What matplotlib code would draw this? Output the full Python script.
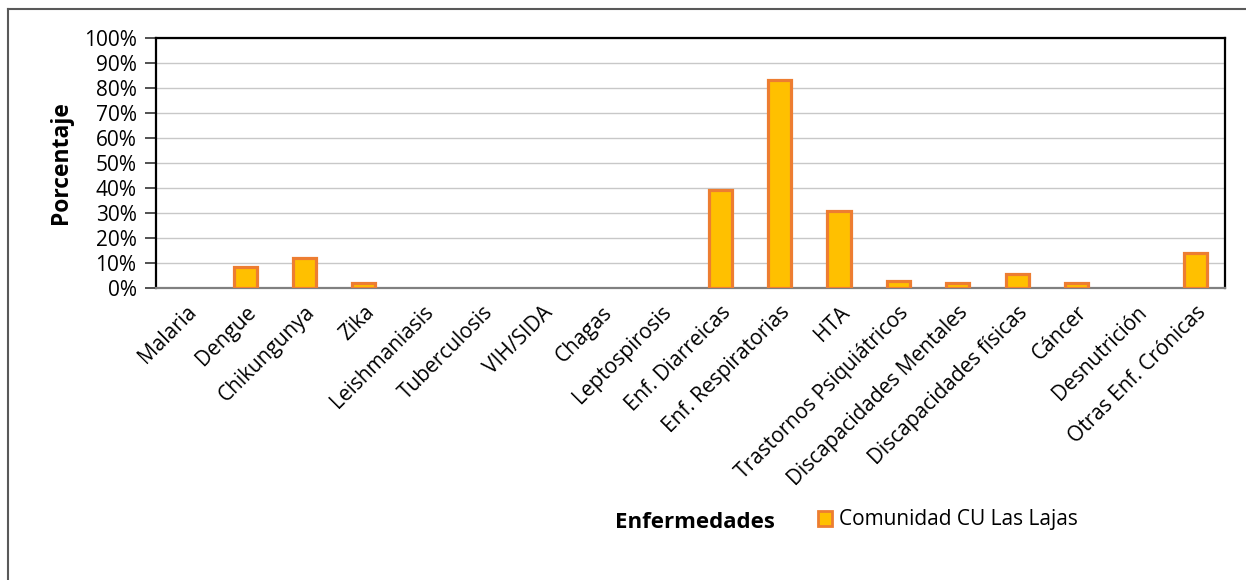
import numpy as np
import matplotlib.pyplot as plt
from matplotlib.patches import Patch
from matplotlib.lines import Line2D

categorias = ["Malaria", "Dengue", "Chikungunya", "Zika", "Leishmaniasis",
              "Tuberculosis", "VIH/SIDA", "Chagas", "Leptospirosis",
              "Enf. Diarreicas", "Enf. Respiratorias", "HTA",
              "Trastornos Psiquiátricos", "Discapacidades Mentales",
              "Discapacidades físicas", "Cáncer", "Desnutrición",
              "Otras Enf. Crónicas"]
porcentajes = [0, 8.4, 12.2, 1.9, 0, 0, 0, 0, 0,
               39.4, 83.3, 30.8, 2.9, 2.2, 5.7, 2.2, 0, 14.1]
y_ticks = list(range(0, 101, 10))

plt.rcParams['font.family'] = ['Open Sans', 'DejaVu Sans']

fig = plt.figure(figsize=(12.46, 5.8), dpi=100)
ax = fig.add_axes([156 / 1246, 1 - 288 / 580, (1225 - 156) / 1246, 250 / 580])

x = np.arange(len(categorias))
bars = ax.bar(x, porcentajes, width=0.39, color='#FFC000', edgecolor='#ED7D31',
              linewidth=2.3, zorder=3)
# Excel does not draw empty bars
for b, v in zip(bars, porcentajes):
    if v == 0:
        b.set_visible(False)

ax.set_xlim(-0.5, len(categorias) - 0.5)
ax.set_ylim(0, 100)
ax.set_yticks(y_ticks)
ax.set_yticklabels([f"{v}%" for v in y_ticks], fontsize=15)
ax.yaxis.grid(True, color='#C8C8C8', linewidth=1, zorder=0)
ax.set_xticks(x)
ax.set_xticklabels(categorias, rotation=45, ha='right', rotation_mode='anchor',
                   fontsize=15)
ax.tick_params(axis='x', length=0, pad=10)
ax.tick_params(axis='y', length=8, width=1.2, color='#333333', pad=6)

for side in ['left', 'right', 'top']:
    ax.spines[side].set_linewidth(1.6)
    ax.spines[side].set_color('black')
ax.spines['bottom'].set_color('#808080')
ax.spines['bottom'].set_linewidth(1.6)

ax.set_ylabel("Porcentaje", fontsize=16.5, fontweight='bold', labelpad=8)

fig.text(695 / 1246, 1 - 523 / 580, "Enfermedades", fontsize=16,
         fontweight='bold', ha='center', va='center')
handle = Patch(facecolor='#FFC000', edgecolor='#ED7D31', linewidth=2)
fig.legend([handle], ["Comunidad CU Las Lajas"], loc='center left',
           bbox_to_anchor=(799 / 1246, 1 - 520 / 580), frameon=False,
           fontsize=15, handlelength=0.7, handleheight=0.7, handletextpad=0.3)

# chart frame: only the top and left edges are inside the picture
fig.add_artist(Line2D([8 / 1246, 8 / 1246], [0, 1 - 9 / 580], transform=fig.transFigure,
                      color='#595959', linewidth=1.5))
fig.add_artist(Line2D([8 / 1246, 1], [1 - 9 / 580, 1 - 9 / 580], transform=fig.transFigure,
                      color='#595959', linewidth=1.5))

fig.savefig("out.png", dpi=100)
